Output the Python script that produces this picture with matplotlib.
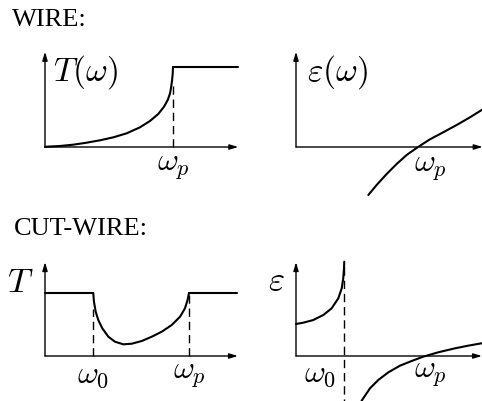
import matplotlib
matplotlib.use("Agg")
import matplotlib.pyplot as plt

plt.rcParams["mathtext.fontset"] = "cm"

W, H = 482, 401

# ---- WIRE: transmission T(omega), omega in units of omega_p
wire_T_w = [0.0, 0.013, 0.117, 0.221, 0.326, 0.43, 0.534, 0.638, 0.742, 0.82,
            0.885, 0.93, 0.959, 0.977, 0.986, 0.993, 0.998, 1.0]
wire_T_v = [0.0, 0.004, 0.0125, 0.029, 0.054, 0.084, 0.121, 0.171, 0.246, 0.325,
            0.413, 0.504, 0.588, 0.671, 0.754, 0.838, 0.92, 1.0]
wire_T_plateau_w = [1.0, 1.51]
wire_T_plateau_v = [1.0, 1.0]

# ---- WIRE: permittivity eps(omega)
wire_eps_w = [0.593, 0.661, 0.743, 0.825, 0.907, 1.0, 1.098, 1.207, 1.317, 1.426, 1.522]
wire_eps_v = [-0.6, -0.475, -0.3375, -0.2125, -0.1, 0.0, 0.096, 0.184, 0.275, 0.371, 0.4625]

# ---- CUT-WIRE: transmission T(omega)
cut_T_left_w = [0.0, 0.335]
cut_T_left_v = [1.0, 1.0]
cut_T_dip_w = [0.335, 0.34, 0.352, 0.37, 0.398, 0.44, 0.486, 0.544, 0.602, 0.672,
               0.741, 0.811, 0.880, 0.938, 0.972, 0.99, 1.0]
cut_T_dip_v = [1.0, 0.862, 0.703, 0.571, 0.439, 0.306, 0.227, 0.185, 0.195, 0.238,
               0.306, 0.386, 0.492, 0.624, 0.757, 0.889, 1.0]
cut_T_right_w = [1.0, 1.333]
cut_T_right_v = [1.0, 1.0]
cut_w0 = 0.335

# ---- CUT-WIRE: permittivity eps(omega)
cut_eps_low_w = [0.0, 0.058, 0.137, 0.217, 0.283, 0.336, 0.363, 0.375, 0.381, 0.383]
cut_eps_low_v = [0.508, 0.529, 0.571, 0.651, 0.757, 0.916, 1.075, 1.233, 1.392, 1.497]
cut_eps_high_w = [0.52, 0.534, 0.587, 0.653, 0.733, 0.825, 0.918, 1.01, 1.129, 1.262, 1.367, 1.474]
cut_eps_high_v = [-0.714, -0.671, -0.513, -0.381, -0.259, -0.154, -0.079, -0.011, 0.059, 0.122, 0.164, 0.202]
cut_eps_w0 = 0.38

fig = plt.figure(figsize=(W / 100, H / 100), dpi=100)

LW_AX = 1.0
LW_CURVE = 1.5
DASH = (0, (6, 3.5))
LABEL_FS = 24
TICK_FS = 23


def panel(box, origin, sx, sy):
    """Axes whose data origin sits at pixel `origin`, sx/sy pixels per unit."""
    left, top, right, bottom = box
    ox, oy = origin
    ax = fig.add_axes([left / W, 1 - bottom / H, (right - left) / W, (bottom - top) / H])
    ax.set_xlim((left - ox) / sx, (right - ox) / sx)
    ax.set_ylim((oy - bottom) / sy, (oy - top) / sy)
    ax.axis("off")
    return ax


def axes_arrows(ax, xend, ytop):
    style = dict(arrowstyle="-|>,head_length=0.5,head_width=0.15", lw=LW_AX,
                 color="black", shrinkA=0, shrinkB=0)
    ax.annotate("", xy=(xend, 0), xytext=(0, 0), arrowprops=style, annotation_clip=False)
    ax.annotate("", xy=(0, ytop), xytext=(0, 0), arrowprops=style, annotation_clip=False)


def curve(ax, w, v):
    ax.plot(w, v, color="black", lw=LW_CURVE, solid_joinstyle="round",
            solid_capstyle="round", clip_on=False)


# WIRE, T(omega)
ax1 = panel((0, 40, 240, 200), (45, 147), 128, 80)
axes_arrows(ax1, 1.51, 1.19)
curve(ax1, wire_T_w, wire_T_v)
curve(ax1, wire_T_plateau_w, wire_T_plateau_v)
ax1.plot([1.0, 1.0], [0, 0.8], color="black", lw=LW_AX, linestyle=DASH)
ax1.text(0.06, 0.94, r"$T(\omega)$", fontsize=LABEL_FS, ha="left", va="center")
ax1.text(1.0, -0.25, r"$\omega_p$", fontsize=TICK_FS, ha="center", va="center")

# WIRE, eps(omega)
ax2 = panel((240, 40, 482, 200), (296, 147), 122, 80)
axes_arrows(ax2, 1.53, 1.19)
curve(ax2, wire_eps_w, wire_eps_v)
ax2.text(0.09, 0.94, r"$\varepsilon(\omega)$", fontsize=LABEL_FS, ha="left", va="center")
ax2.text(1.1, -0.26, r"$\omega_p$", fontsize=TICK_FS, ha="center", va="center")

# CUT-WIRE, T(omega)
ax3 = panel((0, 245, 240, 401), (45, 356), 144, 63)
axes_arrows(ax3, 1.34, 1.49)
curve(ax3, cut_T_left_w, cut_T_left_v)
curve(ax3, cut_T_dip_w, cut_T_dip_v)
curve(ax3, cut_T_right_w, cut_T_right_v)
ax3.plot([cut_w0, cut_w0], [0, 0.75], color="black", lw=LW_AX, linestyle=DASH)
ax3.plot([1.0, 1.0], [0, 0.97], color="black", lw=LW_AX, linestyle=DASH)
ax3.text(-0.174, 1.175, r"$T$", fontsize=LABEL_FS + 1, ha="center", va="center")
ax3.text(cut_w0, -0.30, r"$\omega_0$", fontsize=TICK_FS, ha="center", va="center")
ax3.text(1.0, -0.30, r"$\omega_p$", fontsize=TICK_FS, ha="center", va="center")

# CUT-WIRE, eps(omega)
ax4 = panel((240, 245, 482, 401), (296, 356), 126, 63)
axes_arrows(ax4, 1.476, 1.49)
curve(ax4, cut_eps_low_w, cut_eps_low_v)
curve(ax4, cut_eps_high_w, cut_eps_high_v)
ax4.plot([cut_eps_w0, cut_eps_w0], [1.42, -0.72], color="black", lw=LW_AX, linestyle=DASH)
ax4.text(-0.152, 1.206, r"$\varepsilon$", fontsize=LABEL_FS + 1, ha="center", va="center")
ax4.text(0.19, -0.27, r"$\omega_0$", fontsize=TICK_FS, ha="center", va="center")
ax4.text(1.07, -0.27, r"$\omega_p$", fontsize=TICK_FS, ha="center", va="center")

# section headings
fig.text(12 / W, 1 - 20 / H, "WIRE:", fontsize=19, family="Liberation Serif",
         ha="left", va="center")
fig.text(14 / W, 1 - 229 / H, "CUT-WIRE:", fontsize=19, family="Liberation Serif",
         ha="left", va="center")

fig.savefig("out.png", dpi=100, facecolor="white")
